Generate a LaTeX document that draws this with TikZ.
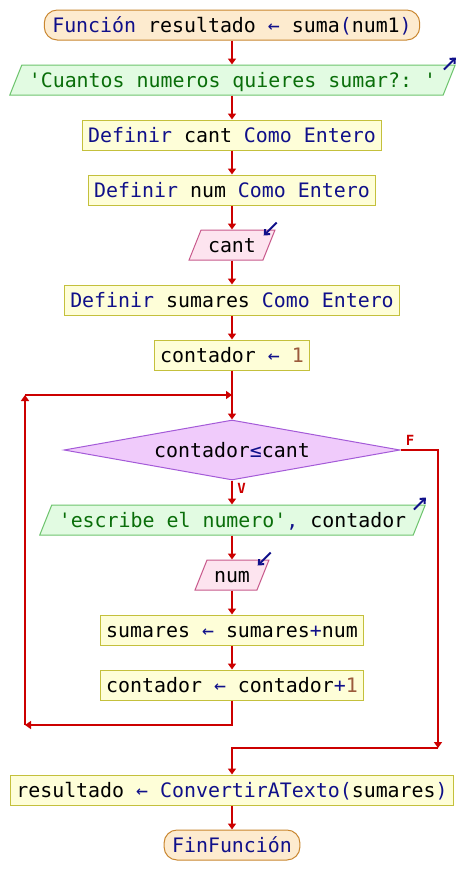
\documentclass[tikz,border=0pt]{standalone}
\usepackage{fontspec}
\usepackage{xcolor}
\usetikzlibrary{arrows.meta,shapes.geometric}
\setmonofont{DejaVu Sans Mono}
\definecolor{termfill}{HTML}{FDEBCF}
\definecolor{termedge}{HTML}{C9862F}
\definecolor{procfill}{HTML}{FEFED8}
\definecolor{procedge}{HTML}{C4C03C}
\definecolor{outfill}{HTML}{E2FBE2}
\definecolor{outedge}{HTML}{6EC46E}
\definecolor{infill}{HTML}{FDE4EF}
\definecolor{inedge}{HTML}{C85A8C}
\definecolor{condfill}{HTML}{F0CBFB}
\definecolor{condedge}{HTML}{A45AD8}
\definecolor{flowred}{HTML}{CC0000}
\definecolor{kwblue}{HTML}{10108A}
\definecolor{strgreen}{HTML}{0A6E0A}
\definecolor{numbrown}{HTML}{9B5A3C}
\newcommand{\kwd}[1]{\textcolor{kwblue}{#1}}
\newcommand{\strg}[1]{\textcolor{strgreen}{#1}}
\newcommand{\numr}[1]{\textcolor{numbrown}{#1}}

\begin{document}
\begin{tikzpicture}[x=1pt,y=-1pt,
  base/.style={font=\ttfamily\fontsize{19.9pt}{24pt}\selectfont, text height=16pt, text depth=2pt, inner ysep=6pt, line width=1pt},
  term/.style={base, draw=termedge, fill=termfill, rounded corners=13pt, inner xsep=8pt},
  proc/.style={base, draw=procedge, fill=procfill, inner xsep=6pt},
  para/.style={base, trapezium, trapezium left angle=68.2, trapezium right angle=111.8, inner xsep=7pt},
  outp/.style={para, draw=outedge, fill=outfill},
  inp/.style={para, draw=inedge, fill=infill},
  test/.style={base, diamond, aspect=5.6, draw=condedge, fill=condfill, inner sep=0pt, minimum width=336pt, minimum height=60pt},
  flow/.style={draw=flowred, line width=2pt, -{Triangle[width=8pt,length=6pt]}},
  icon/.style={draw=kwblue, line width=2pt, -{Straight Barb[length=4pt,width=7pt]}},
  tag/.style={text=flowred, font=\ttfamily\bfseries\fontsize{14pt}{16pt}\selectfont, inner sep=0pt}]
\fill[color=white] (0.000000, 0.000000) rectangle (464.000000, 895.000000);
% Drawing nodes
% Line 1: Funcion resultado <- suma(num1)
\draw (232.000000, 25.000000) node[term] (start) {\kwd{Función} resultado \kwd{←} suma\kwd{(}num1\kwd{)}};
% Line 2: Escribir 'Cuantos numeros quieres sumar?: '
\draw (232.500000, 80.000000) node[outp] (out1) {\strg{'Cuantos numeros quieres sumar?: '}};
\draw[icon] ([shift={(-12,5)}]out1.top right corner) -- ([shift={(0,-7)}]out1.top right corner);
% Line 3: Definir cant Como Entero
\draw (232.000000, 135.000000) node[proc] (def1) {\kwd{Definir} cant \kwd{Como Entero}};
% Line 4: Definir num Como Entero
\draw (232.000000, 190.000000) node[proc] (def2) {\kwd{Definir} num \kwd{Como Entero}};
% Line 5: Leer cant
\draw (232.000000, 245.000000) node[inp] (in1) {cant};
\draw[icon] ([shift={(1,-7)}]in1.top right corner) -- ([shift={(-12,6)}]in1.top right corner);
% Line 6: Definir sumares Como Entero
\draw (232.000000, 300.000000) node[proc] (def3) {\kwd{Definir} sumares \kwd{Como Entero}};
% Line 7: contador <- 1
\draw (232.000000, 355.000000) node[proc] (asig1) {contador \kwd{←} \numr{1}};
% Line 8: Mientras contador<=cant
\draw (232.000000, 450.000000) node[test] (cond) {contador\kwd{≤}cant};
\draw (410.000000, 440.000000) node[tag] (lblF) {F};
\draw (241.500000, 488.000000) node[tag] (lblV) {V};
% Line 9: Escribir 'escribe el numero', contador
\draw (232.500000, 520.000000) node[outp] (out2) {\strg{'escribe el numero'}\kwd{,} contador};
\draw[icon] ([shift={(-12,5)}]out2.top right corner) -- ([shift={(0,-7)}]out2.top right corner);
% Line 10: Leer num
\draw (232.000000, 575.000000) node[inp] (in2) {num};
\draw[icon] ([shift={(1,-7)}]in2.top right corner) -- ([shift={(-12,6)}]in2.top right corner);
% Line 11: sumares <- sumares+num
\draw (232.000000, 630.000000) node[proc] (asig2) {sumares \kwd{←} sumares\kwd{+}num};
% Line 12: contador <- contador+1
\draw (232.000000, 685.000000) node[proc] (asig3) {contador \kwd{←} contador\kwd{+}\numr{1}};
% Line 13: resultado <- ConvertirATexto(sumares)
\draw (232.000000, 790.000000) node[proc] (res) {resultado \kwd{←} \kwd{ConvertirATexto(}sumares\kwd{)}};
% Line 14: FinFuncion
\draw (232.000000, 845.000000) node[term] (fin) {\kwd{FinFunción}};
% Done with nodes; drawing arrows
\coordinate (loopBot) at (25.000000, 725.000000);
\coordinate (loopTop) at (25.000000, 395.000000);
\coordinate (loopIn) at (232.000000, 395.000000);
\coordinate (exitDown) at (438.000000, 748.000000);
\draw[flow] (start.south) -- (start.south |- out1.north);
\draw[flow] (def1.north |- out1.south) -- (def1.north);
\draw[flow] (def1.south) -- (def2.north);
\draw[flow] (def2.south) -- (def2.south |- in1.north);
\draw[flow] (def3.north |- in1.south) -- (def3.north);
\draw[flow] (def3.south) -- (asig1.north);
\draw[flow] (asig1.south) -- (cond.north);
\draw[flow] (cond.south) -- (cond.south |- out2.north);
\draw[flow] (cond.south |- out2.south) -- (cond.south |- in2.north);
\draw[flow] (asig2.north |- in2.south) -- (asig2.north);
\draw[flow] (asig2.south) -- (asig3.north);
% loop back
\draw[flow] (asig3.south) |- (loopBot);
\draw[flow] (loopBot) -- (loopTop);
\draw[flow] (loopTop) -- (loopIn);
% exit
\draw[flow] (cond.east) -| (exitDown);
\draw[flow] (exitDown) -| (res.north);
\draw[flow] (res.south) -- (fin.north);
% Done with arrows
\end{tikzpicture}
\end{document}
